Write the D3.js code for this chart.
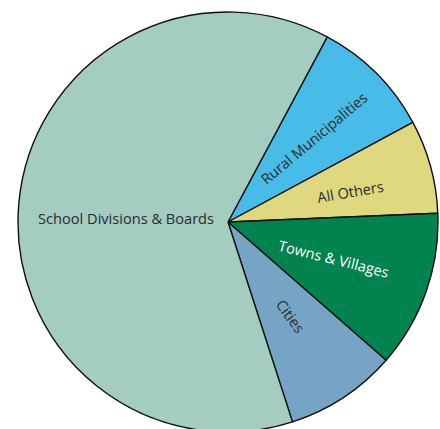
<!DOCTYPE html>
<html>
<head>
<meta charset="utf-8">
<script src="https://cdn.jsdelivr.net/npm/d3@7"></script>
<style>
  body { margin: 0; background: #fff; }
  svg { display: block; }
  .lbl { font-family: "Open Sans", sans-serif; font-size: 14.6px; }
</style>
</head>
<body>
<div id="chart"></div>
<script>
// ---- data (share of total, %) ----
var categories = ["Rural Municipalities", "All Others", "Towns & Villages", "Cities", "School Divisions & Boards"];
var shares = [9.3, 7.2, 12.1, 8.6, 62.8];
var colors = ["#48bce8", "#dfd87e", "#00834f", "#76a4c4", "#a4ccc0"];

var width = 440, height = 429;
var cx = 228, cy = 222, radius = 210;

var svg = d3.select("#chart").append("svg")
    .attr("width", width)
    .attr("height", height);

var g = svg.append("g").attr("transform", "translate(" + cx + "," + cy + ")");

// pie starts at the Rural Municipalities edge (about 28 deg past north)
var pie = d3.pie()
    .sort(null)
    .value(function(d) { return d.v; })
    .startAngle(28.2 * Math.PI / 180)
    .endAngle(28.2 * Math.PI / 180 + 2 * Math.PI);

var rows = categories.map(function(c, i) { return { name: c, v: shares[i], color: colors[i] }; });
var arcs = pie(rows);

var arc = d3.arc().innerRadius(0).outerRadius(radius);

g.selectAll("path.slice")
    .data(arcs)
    .enter()
    .append("path")
    .attr("class", "slice")
    .attr("d", arc)
    .attr("fill", function(d) { return d.data.color; })
    .attr("stroke", "#111")
    .attr("stroke-width", 1.4)
    .attr("stroke-linejoin", "round");

// label placement: distance from centre, angle nudge (deg) and tilt for each slice
var labelLayout = {
    "Rural Municipalities": { r: 120, da: 1, rot: -40, fill: "#2b2b2b" },
    "All Others": { r: 126, da: 1.7, rot: -10, fill: "#2b2b2b" },
    "Towns & Villages": { r: 112, da: 0, rot: 14, fill: "#ffffff" },
    "Cities": { r: 113, da: 0, rot: 54, fill: "#2b2b2b" },
    "School Divisions & Boards": { r: 102, da: -3.4, rot: 0, fill: "#2b2b2b" }
};

g.selectAll("text.lbl")
    .data(arcs)
    .enter()
    .append("text")
    .attr("class", "lbl")
    .attr("text-anchor", "middle")
    .attr("dy", "0.35em")
    .attr("fill", function(d) { return labelLayout[d.data.name].fill; })
    .attr("transform", function(d) {
        var L = labelLayout[d.data.name];
        var a = (d.startAngle + d.endAngle) / 2 + L.da * Math.PI / 180;
        var x = Math.sin(a) * L.r, y = -Math.cos(a) * L.r;
        return "translate(" + x + "," + y + ") rotate(" + L.rot + ")";
    })
    .text(function(d) { return d.data.name; });
</script>
</body>
</html>
